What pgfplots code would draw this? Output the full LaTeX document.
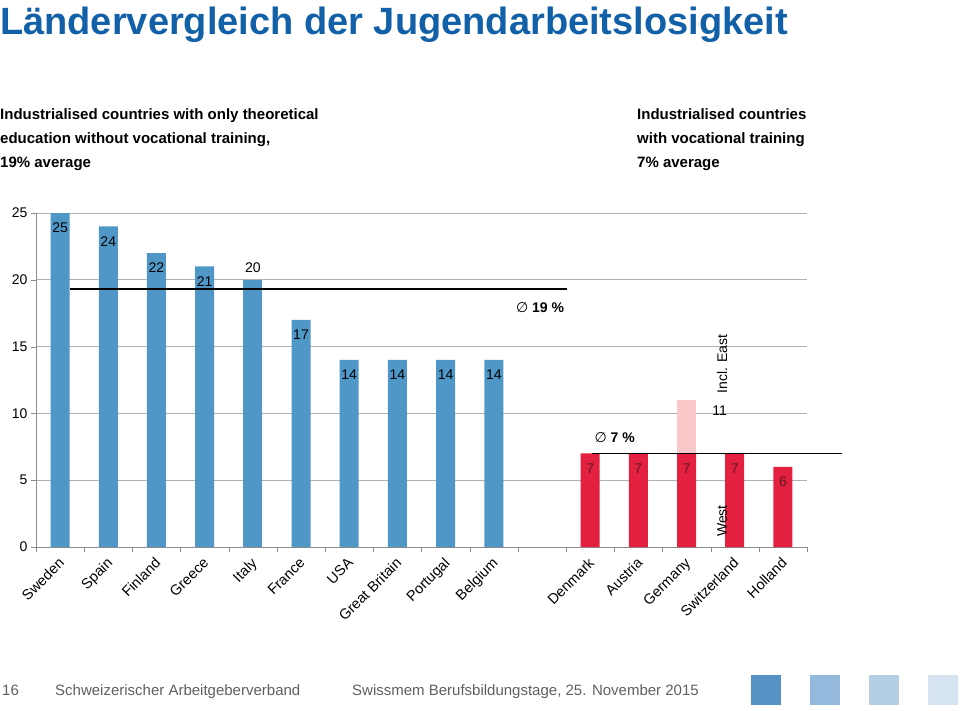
\documentclass[border=0pt]{standalone}
\usepackage{fontspec}
\setmainfont{Liberation Sans}
\newfontfamily\djv{DejaVu Sans}
\usepackage{pgfplots}
\pgfplotsset{compat=1.18}
\definecolor{barblue}{RGB}{79,151,199}
\definecolor{barred}{RGB}{228,32,64}
\definecolor{barpink}{RGB}{250,200,200}
\definecolor{titleblue}{RGB}{18,97,168}
\definecolor{gridgray}{RGB}{175,175,175}
\definecolor{axisgray}{RGB}{140,140,140}
\definecolor{footgray}{RGB}{95,95,95}
\definecolor{labred}{RGB}{95,25,35}
\definecolor{sqa}{RGB}{86,146,196}
\definecolor{sqb}{RGB}{147,186,220}
\definecolor{sqc}{RGB}{180,206,230}
\definecolor{sqd}{RGB}{214,228,242}
\begin{document}
\begin{tikzpicture}[x=1pt,y=1pt]
\useasboundingbox (0pt,0pt) rectangle (960pt,-710pt);
% title
\node[anchor=base west, inner sep=0, text=titleblue, font=\fontsize{38}{40}\selectfont\bfseries] at (0pt,-34pt) {Ländervergleich der Jugendarbeitslosigkeit};
% subtitles
\begin{scope}[every node/.style={anchor=base west, inner sep=0, font=\fontsize{15}{17}\selectfont\bfseries}]
\node at (0pt,-119pt) {Industrialised countries with only theoretical};
\node at (0pt,-143pt) {education without vocational training,};
\node at (0pt,-167pt) {19\% average};
\node at (637pt,-119pt) {Industrialised countries};
\node at (637pt,-143pt) {with vocational training};
\node at (637pt,-167pt) {7\% average};
\end{scope}
% footer
\begin{scope}[every node/.style={anchor=base west, inner sep=0, text=footgray, font=\fontsize{15}{17}\selectfont}]
\node at (2pt,-695pt) {16};
\node at (55pt,-695pt) {Schweizerischer Arbeitgeberverband};
\node at (352pt,-695pt) {Swissmem Berufsbildungstage, 25. November 2015};
\end{scope}
\fill[sqa] (751pt,-675pt) rectangle (781pt,-705pt);
\fill[sqb] (810pt,-675pt) rectangle (840pt,-705pt);
\fill[sqc] (869pt,-675pt) rectangle (899pt,-705pt);
\fill[sqd] (928pt,-675pt) rectangle (958pt,-705pt);

\begin{axis}[
  at={(36pt,-547pt)}, anchor=south west,
  scale only axis, width=771pt, height=334pt,
  xmin=-0.5, xmax=15.5, ymin=0, ymax=25,
  clip=false,
  axis lines*=left,
  axis line style={axisgray},
  ymajorgrids, grid style={gridgray, line width=0.8pt},
  ytick={0,5,...,25},
  minor ytick={0,5,...,25},
  xtick={0,...,15},
  minor xtick={-0.5,0.5,...,15.5},
  xticklabels={Sweden,Spain,Finland,Greece,Italy,France,USA,Great Britain,Portugal,Belgium,{},Denmark,Austria,Germany,Switzerland,Holland},
  major tick length=0pt,
  minor tick length=5pt,
  tick align=outside,
  minor tick style={axisgray},
  /pgf/number format/assume math mode=true,
  y tick label style={font=\fontsize{14}{16}\selectfont, xshift=-5pt},
  x tick label style={rotate=45, anchor=north east, font=\fontsize{14.5}{16}\selectfont, inner sep=1pt, xshift=-7.5pt, yshift=-4pt},
  every node near coord/.append style={font=\fontsize{14}{16}\selectfont},
]
% blue bars, labels inside
\addplot[ybar, bar shift=0pt, bar width=19pt, fill=barblue, draw=none,
  nodes near coords, point meta=y,
  every node near coord/.append style={anchor=center, yshift=-15pt, text=black}]
  coordinates {(0,25)(1,24)(2,22)(3,21)(5,17)(6,14)(7,14)(8,14)(9,14)};
% Italy, label above
\addplot[ybar, bar shift=0pt, bar width=19pt, fill=barblue, draw=none,
  nodes near coords, point meta=y,
  every node near coord/.append style={anchor=center, yshift=12pt, text=black}]
  coordinates {(4,20)};
% Germany incl. East
\addplot[ybar, bar shift=0pt, bar width=19pt, fill=barpink, draw=none,
  nodes near coords, point meta=y,
  every node near coord/.append style={anchor=center, xshift=33pt, yshift=-11pt, text=black}]
  coordinates {(13,11)};
% red bars
\addplot[ybar, bar shift=0pt, bar width=19pt, fill=barred, draw=none,
  nodes near coords, point meta=y,
  every node near coord/.append style={anchor=center, yshift=-15pt, text=labred}]
  coordinates {(11,7)(12,7)(13,7)(14,7)(15,6)};
% averages
\addplot[black, line width=1.8pt, no marks] coordinates {(0.206,19.3)(10.52,19.3)};
\addplot[black, line width=1.8pt, no marks] coordinates {(11.04,7)(16.23,7)};
\node[font=\fontsize{14}{16}\selectfont\bfseries] at (axis cs:9.96,17.9) {{\djv\mdseries ∅} 19 \%};
\node[font=\fontsize{14}{16}\selectfont\bfseries] at (axis cs:11.51,8.16) {{\djv\mdseries ∅} 7 \%};
\node[rotate=90, font=\fontsize{14}{16}\selectfont] at (axis cs:13.74,13.7) {Incl. East};
\node[rotate=90, font=\fontsize{14}{16}\selectfont] at (axis cs:13.74,1.95) {West};
\end{axis}
\end{tikzpicture}
\end{document}
